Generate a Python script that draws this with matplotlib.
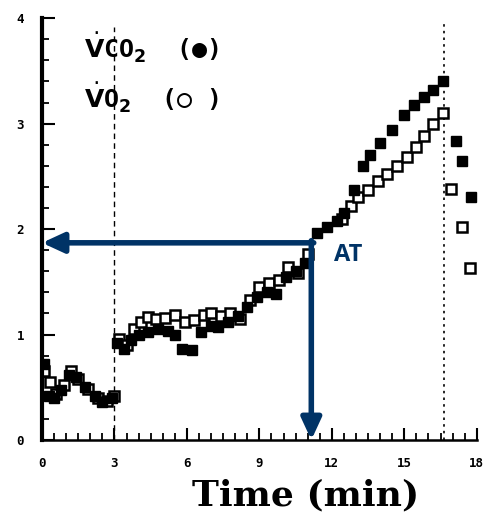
import matplotlib
matplotlib.use("Agg")
import matplotlib.pyplot as plt
from matplotlib.ticker import MultipleLocator

# VCO2 (filled markers)
t_vco2 = [0.1, 0.3, 0.5, 0.8, 1.1, 1.4, 1.8, 2.2, 2.5, 2.9,
          3.1, 3.4, 3.7, 4.0, 4.4, 4.8, 5.2, 5.5, 5.8, 6.2, 6.6, 7.0, 7.3, 7.7,
          8.1, 8.5, 8.9, 9.3, 9.7, 10.1, 10.5, 10.9,
          11.4, 11.8, 12.2, 12.5, 12.9, 13.3, 13.6, 14.0, 14.5, 15.0, 15.4,
          15.8, 16.2, 16.6,
          17.15, 17.4, 17.75]
vco2 = [0.72, 0.42, 0.40, 0.47, 0.62, 0.60, 0.50, 0.42, 0.36, 0.40,
        0.92, 0.86, 0.95, 1.00, 1.02, 1.05, 1.03, 1.00, 0.86, 0.85, 1.02, 1.08, 1.07, 1.12,
        1.18, 1.26, 1.36, 1.40, 1.38, 1.55, 1.60, 1.68,
        1.96, 2.02, 2.08, 2.15, 2.37, 2.60, 2.70, 2.82, 2.94, 3.08, 3.18,
        3.25, 3.32, 3.40,
        2.84, 2.65, 2.30]

# VO2 (open markers)
t_vo2 = [0.1, 0.35, 0.6, 0.9, 1.2, 1.5, 1.9, 2.3, 2.7, 3.0,
         3.2, 3.5, 3.8, 4.1, 4.4, 4.7, 5.1, 5.5, 5.9, 6.3, 6.7, 7.0, 7.4, 7.8,
         8.2, 8.6, 9.0, 9.4, 9.8, 10.2, 10.6, 11.0,
         12.4, 12.8, 13.1, 13.5, 13.9, 14.3, 14.7, 15.1, 15.5, 15.8, 16.2, 16.6,
         16.95, 17.4, 17.7]
vo2 = [0.65, 0.55, 0.44, 0.52, 0.65, 0.58, 0.48, 0.40, 0.37, 0.42,
       0.96, 0.90, 1.05, 1.12, 1.17, 1.15, 1.16, 1.19, 1.12, 1.14, 1.19, 1.20, 1.18, 1.20,
       1.15, 1.33, 1.45, 1.49, 1.52, 1.64, 1.58, 1.76,
       2.10, 2.22, 2.30, 2.37, 2.46, 2.52, 2.60, 2.68, 2.78, 2.88, 3.00, 3.10,
       2.38, 2.02, 1.63]

x_ticks = [0, 3, 6, 9, 12, 15, 18]
y_ticks = [0, 1, 2, 3, 4]
t_start = 3.0      # exercise start
t_end = 16.65      # exercise end
at_time = 11.15    # anaerobic threshold
at_value = 1.87

navy = "#003366"
plt.rcParams["mathtext.fontset"] = "dejavusans"

fig = plt.figure(figsize=(4.86, 5.2), dpi=100)
ax = fig.add_axes([0.0864, 0.1538, 0.8946, 0.8112])

ax.axvline(t_start, ymax=0.98, color="black", lw=1.0, ls=(0, (4, 3)))
ax.axvline(t_end, ymax=0.99, color="black", lw=1.2, ls=(0, (1.5, 2.5)))

ax.plot(t_vo2, vo2, ls="none", marker="s", ms=6.5, mfc="white", mec="black", mew=1.8)
ax.plot(t_vco2, vco2, ls="none", marker="s", ms=6.5, mfc="black", mec="black", mew=1.0)

ax.set_xlim(0, 18)
ax.set_ylim(0, 4)
ax.set_xticks(x_ticks)
ax.set_yticks(y_ticks)
ax.xaxis.set_minor_locator(MultipleLocator(0.5))
ax.yaxis.set_minor_locator(MultipleLocator(0.2))
ax.tick_params(which="major", direction="in", length=9, width=1.5, pad=12,
               labelsize=9)
ax.tick_params(axis="y", which="major", pad=13)
ax.tick_params(which="minor", direction="in", length=5, width=1.3)
for lab in ax.get_xticklabels() + ax.get_yticklabels():
    lab.set_fontfamily("DejaVu Sans Mono")
    lab.set_fontweight("bold")
ax.spines["top"].set_visible(False)
ax.spines["right"].set_visible(False)
ax.spines["left"].set_linewidth(3)
ax.spines["bottom"].set_linewidth(1.8)

ax.text(1.75, 3.72, "$\\dot{\\mathbf{V}}$CO$_\\mathbf{2}$  (\u25cf)", fontsize=18,
        fontweight="bold", family="DejaVu Sans Mono", va="center")
ax.text(1.75, 3.24, "$\\dot{\\mathbf{V}}$O$_\\mathbf{2}$  (\u25cb )", fontsize=18,
        fontweight="bold", family="DejaVu Sans Mono", va="center")

# AT arrows
ax.annotate("", xy=(0, at_value), xytext=(at_time + 0.1, at_value),
            arrowprops=dict(arrowstyle="-|>,head_length=1.3,head_width=0.6",
                            color=navy, lw=4, shrinkA=0, shrinkB=0))
ax.annotate("", xy=(at_time, 0), xytext=(at_time, at_value + 0.02),
            arrowprops=dict(arrowstyle="-|>,head_length=1.3,head_width=0.6",
                            color=navy, lw=4, shrinkA=0, shrinkB=0))
ax.text(at_time + 0.95, at_value - 0.12, "AT", color=navy, fontsize=17,
        fontweight="bold", family="Open Sans", va="center")

fig.text(0.628, 0.048, "Time (min)", fontsize=26, fontweight="bold",
         family="DejaVu Serif", ha="center", va="center")

fig.savefig("out.png", dpi=100)
